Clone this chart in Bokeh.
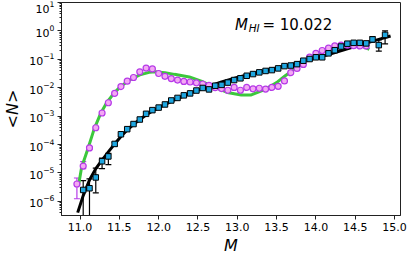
from bokeh.plotting import figure
from bokeh.models import (Range1d, FixedTicker, PrintfTickFormatter, Label,
                          Whisker, ColumnDataSource, TeeHead)
from bokeh.embed import file_html
from bokeh.resources import INLINE

# ---- data (log10 <N>) ----
mass_bins = [10.96, 11.04, 11.12, 11.20, 11.28, 11.36, 11.44, 11.52, 11.60, 11.68,
             11.76, 11.84, 11.92, 12.00, 12.08, 12.16, 12.24, 12.32, 12.40, 12.48,
             12.56, 12.64, 12.72, 12.80, 12.88, 12.96, 13.04, 13.12, 13.20, 13.28,
             13.36, 13.44, 13.52, 13.60, 13.68, 13.76, 13.84, 13.92, 14.00, 14.08,
             14.16, 14.24, 14.32, 14.40, 14.48, 14.56, 14.64, 14.72, 14.80, 14.88]

sat_log = [-5.39, -4.76, -4.12, -3.41, -2.89, -2.53, -2.20, -1.96, -1.77, -1.64,
           -1.44, -1.31, -1.34, -1.50, -1.60, -1.68, -1.73, -1.78, -1.80, -1.83,
           -1.87, -1.92, -2.00, -2.03, -2.09, -1.99, -2.09, -1.99, -2.04, -2.02,
           -2.05, -1.99, -1.95, -1.76, -1.47, -1.32, -1.18, -0.92, -0.79, -0.69,
           -0.61, -0.53, -0.50, -0.50, -0.52, -0.53, -0.53]

cen_log = [-5.60, -5.54, -5.16, -4.59, -4.42, -3.98, -3.64, -3.46, -3.28,
           -3.12, -2.92, -2.79, -2.70, -2.59, -2.45, -2.36, -2.27, -2.20, -2.10,
           -2.01, -2.06, -1.93, -1.90, -1.82, -1.73, -1.67, -1.58, -1.52, -1.46,
           -1.41, -1.38, -1.32, -1.24, -1.22, -1.17, -1.05, -0.99, -0.93, -0.93,
           -0.79, -0.68, -0.55, -0.45, -0.42, -0.42, -0.44, -0.30, -0.50, -0.14]

sat_err_m = [10.96, 11.04, 11.12]
sat_err_lo = [-5.91, -4.85, -4.17]
sat_err_hi = [-5.18, -4.60, -4.07]

cen_err_m = [11.04, 11.12, 11.20, 11.28, 11.36, 11.44, 14.72, 14.80, 14.88]
cen_err_lo = [-9.0, -9.0, -5.70, -4.85, -4.71, -4.05, -0.40, -0.71, -0.46]
cen_err_hi = [-5.27, -5.21, -4.83, -4.48, -4.31, -3.92, -0.20, -0.32, 0.00]

green_m = [10.98, 11.02, 11.10, 11.18, 11.26, 11.34, 11.43, 11.51, 11.63, 11.76,
           11.88, 11.96, 12.08, 12.20, 12.39, 12.56, 12.72, 12.89, 13.05, 13.17,
           13.34, 13.50, 13.61, 13.71, 13.85, 14.00, 14.15, 14.30, 14.45, 14.58, 14.68]
green_log = [-5.45, -4.80, -4.15, -3.45, -2.92, -2.52, -2.20, -1.97, -1.73, -1.55,
             -1.46, -1.44, -1.47, -1.53, -1.62, -1.79, -2.00, -2.18, -2.26, -2.26,
             -2.08, -1.82, -1.58, -1.38, -1.08, -0.82, -0.65, -0.54, -0.50, -0.53, -0.65]

black_m = [10.97, 11.04, 11.12, 11.20, 11.28, 11.36, 11.44, 11.52, 11.60, 11.68,
           11.76, 11.84, 11.92, 12.00, 12.20, 12.40, 12.60, 12.80, 13.00, 13.20,
           13.40, 13.60, 13.80, 14.00, 14.20, 14.40, 14.60, 14.80, 14.95]
black_log = [-6.40, -5.80, -5.25, -4.85, -4.55, -4.26, -3.98, -3.72, -3.49, -3.29,
             -3.12, -2.96, -2.82, -2.70, -2.43, -2.20, -1.99, -1.80, -1.64, -1.50,
             -1.37, -1.24, -1.10, -0.96, -0.80, -0.63, -0.46, -0.30, -0.18]

x_ticks = [11.0, 11.5, 12.0, 12.5, 13.0, 13.5, 14.0, 14.5, 15.0]
y_decades = [-6, -5, -4, -3, -2, -1, 0, 1]

def lin(vals):
    return [10.0 ** v for v in vals]

FONT = "DejaVu Sans"
SAT_EDGE = "#b63ae8"
SAT_FILL = "#f3a8f3"
CEN_FILL = "#1ea6e0"

p = figure(width=407, height=257, y_axis_type="log",
           x_range=Range1d(10.764, 15.076), y_range=Range1d(10 ** -6.5, 10 ** 1),
           output_backend="svg", toolbar_location=None,
           min_border_left=50, min_border_right=7, min_border_top=2, min_border_bottom=41)
p.background_fill_color = "white"
p.border_fill_color = "white"
p.outline_line_color = "#222222"
p.outline_line_width = 1
p.xgrid.visible = False
p.ygrid.visible = False

# curves
p.line(black_m, lin(black_log), line_color="black", line_width=3)
p.line(green_m, lin(green_log), line_color="#3cc83c", line_width=3)

# error bars
s_src = ColumnDataSource(dict(x=sat_err_m, lo=lin(sat_err_lo), hi=lin(sat_err_hi)))
w1 = Whisker(source=s_src, base="x", lower="lo", upper="hi", dimension="height",
             line_color=SAT_EDGE, line_width=1.2,
             upper_head=TeeHead(size=6, line_color=SAT_EDGE, line_width=1.2),
             lower_head=TeeHead(size=6, line_color=SAT_EDGE, line_width=1.2))
p.add_layout(w1)
c_src = ColumnDataSource(dict(x=cen_err_m, lo=lin(cen_err_lo), hi=lin(cen_err_hi)))
w2 = Whisker(source=c_src, base="x", lower="lo", upper="hi", dimension="height",
             line_color="black", line_width=1.2,
             upper_head=TeeHead(size=6, line_color="black", line_width=1.2),
             lower_head=TeeHead(size=6, line_color="black", line_width=1.2))
p.add_layout(w2)

# points
p.scatter(mass_bins[:len(sat_log)], lin(sat_log), marker="circle", size=6,
          fill_color=SAT_FILL, line_color=SAT_EDGE, line_width=1.2)
p.scatter(mass_bins[1:1 + len(cen_log)], lin(cen_log), marker="square", size=5.5,
          fill_color=CEN_FILL, line_color="black", line_width=1.0)

# axes
p.xaxis.ticker = FixedTicker(ticks=x_ticks)
p.xaxis.formatter = PrintfTickFormatter(format="%.1f")
p.yaxis.ticker = FixedTicker(ticks=[10.0 ** d for d in y_decades],
                             minor_ticks=[m * 10.0 ** d for d in y_decades[:-1] for m in range(2, 10)] +
                                         [3e-7, 4e-7, 5e-7, 6e-7, 7e-7, 8e-7, 9e-7])
for ax in (p.xaxis[0], p.yaxis[0]):
    ax.major_tick_in = 0
    ax.major_tick_out = 4
    ax.minor_tick_in = 0
    ax.minor_tick_out = 2
    ax.major_label_text_font = FONT
    ax.major_label_text_font_size = "11px"
    ax.major_label_text_color = "black"
    ax.axis_line_color = "#222222"
    ax.major_tick_line_color = "#222222"
    ax.minor_tick_line_color = "#222222"
    ax.major_label_standoff = 3
    ax.axis_label_text_font = FONT
    ax.axis_label_text_font_size = "16px"
    ax.axis_label_text_font_style = "italic"
    ax.axis_label_text_color = "black"
p.xaxis.minor_tick_line_color = None
p.xaxis.axis_label = "M"
p.xaxis.axis_label_standoff = 2
p.yaxis.axis_label = "<N>"
p.yaxis.axis_label_standoff = 4

# annotation M_HI = 10.022
p.add_layout(Label(x=12.97, y=10 ** 0.212, text="M", text_font=FONT, text_font_size="15px",
                   text_font_style="italic", text_baseline="alphabetic", text_color="black"))
p.add_layout(Label(x=13.145, y=10 ** 0.10, text="HI", text_font=FONT, text_font_size="10.5px",
                   text_font_style="italic", text_baseline="alphabetic", text_color="black"))
p.add_layout(Label(x=13.32, y=10 ** 0.212, text="= 10.022", text_font=FONT, text_font_size="15px",
                   text_baseline="alphabetic", text_color="black"))

open("out.html", "w").write(file_html(p, INLINE))
